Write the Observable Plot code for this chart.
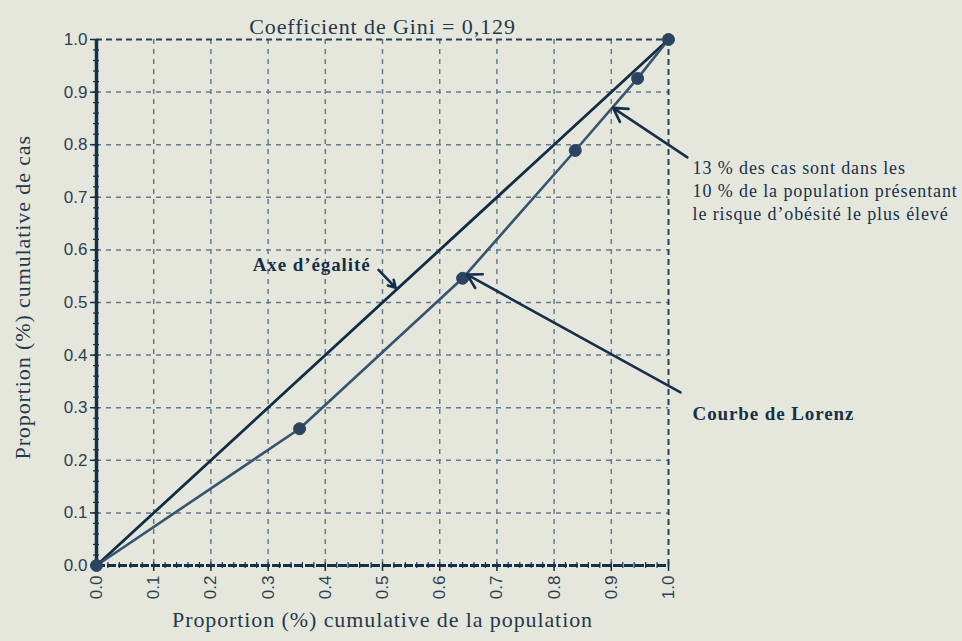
<!DOCTYPE html>
<html><head><meta charset="utf-8">
<script src="https://cdn.jsdelivr.net/npm/d3@7"></script>
<script src="https://cdn.jsdelivr.net/npm/@observablehq/plot@0.6"></script>
<style>
body{margin:0;background:#e6e7dc}
g[font-family*="Liberation Serif"]{letter-spacing:0.9px}
</style>
</head><body><div id="chart"></div>
<script>
// Lorenz curve data (cumulative share of population vs cumulative share of cases)
const popShare = [0, 0.355, 0.64, 0.837, 0.946, 1];
const caseShare = [0, 0.26, 0.546, 0.789, 0.926, 1];
// Line of equality
const eqX = [0, 1];
const eqY = [0, 1];
// Axis ticks
const xTicks = [0, 0.1, 0.2, 0.3, 0.4, 0.5, 0.6, 0.7, 0.8, 0.9, 1];
const xTickLabels = ["0.0","0.1","0.2","0.3","0.4","0.5","0.6","0.7","0.8","0.9","1.0"];
const yTicks = [0, 0.1, 0.2, 0.3, 0.4, 0.5, 0.6, 0.7, 0.8, 0.9, 1];
const yTickLabels = ["0.0","0.1","0.2","0.3","0.4","0.5","0.6","0.7","0.8","0.9","1.0"];
const minorTicks = d3.range(0, 51).map(i => i / 50);
// Texts
const titleText = "Coefficient de Gini = 0,129";
const xTitle = "Proportion (%) cumulative de la population";
const yTitle = "Proportion (%) cumulative de cas";
const noteEq = "Axe d’égalité";
const noteLorenz = "Courbe de Lorenz";
const noteTop = "13 % des cas sont dans les\n10 % de la population présentant\nle risque d’obésité le plus élevé";

const lorenz = popShare.map((x, i) => ({x, y: caseShare[i]}));
const equality = eqX.map((x, i) => ({x, y: eqY[i]}));
const xLab = new Map(xTicks.map((t, i) => [t, xTickLabels[i]]));
const yLab = new Map(yTicks.map((t, i) => [t, yTickLabels[i]]));

const dark = "#17304a";
const grid = "#677a8b";
const textCol = "#26384b";
const serif = "'Liberation Serif', 'Times New Roman', serif";

// annotation arrows in data space
const arrows = [
  {x1: 0.493, y1: 0.562, x2: 0.523, y2: 0.528},
  {x1: 1.021, y1: 0.329, x2: 0.648, y2: 0.553},
  {x1: 1.033, y1: 0.776, x2: 0.903, y2: 0.870}
];

const chart = Plot.plot({
  width: 962, height: 641,
  marginLeft: 96, marginRight: 294, marginTop: 39, marginBottom: 76,
  x: {domain: [0, 1]},
  y: {domain: [0, 1]},
  style: {background: "#e6e7dc", fontFamily: "'Liberation Sans', Arial, sans-serif", fontSize: "17px", color: "#2d4053"},
  marks: [
    Plot.ruleX(xTicks.slice(1, -1), {stroke: grid, strokeWidth: 1.5, strokeDasharray: "5,5"}),
    Plot.ruleY(yTicks.slice(1, -1), {stroke: grid, strokeWidth: 1.5, strokeDasharray: "5,5"}),
    Plot.ruleX([1], {stroke: "#2b4258", strokeWidth: 2, strokeDasharray: "6,4"}),
    Plot.ruleY([1], {stroke: "#2b4258", strokeWidth: 2, strokeDasharray: "6,4"}),
    Plot.ruleY(minorTicks, {x1: 0, x2: 0, insetLeft: -3, insetRight: -3, stroke: dark, strokeWidth: 1.2}),
    Plot.ruleX(minorTicks, {y1: 0, y2: 0, insetTop: -3, insetBottom: -3, stroke: dark, strokeWidth: 1.2}),
    Plot.ruleY([0], {stroke: dark, strokeWidth: 3, strokeDasharray: "9,2"}),
    Plot.ruleX([0], {stroke: dark, strokeWidth: 3.5}),
    Plot.axisY({ticks: yTicks, tickFormat: d => yLab.get(d), tickSize: 6, tickPadding: 3, label: null, stroke: dark, strokeWidth: 1.5}),
    Plot.axisX({ticks: xTicks, tickFormat: d => xLab.get(d), tickSize: 6, tickPadding: 4, tickRotate: -90, label: null, stroke: dark, strokeWidth: 1.5}),
    Plot.line(equality, {x: "x", y: "y", stroke: "#122c46", strokeWidth: 2.8}),
    Plot.line(lorenz, {x: "x", y: "y", stroke: "#36536f", strokeWidth: 2.6}),
    Plot.dot(lorenz, {x: "x", y: "y", r: 6, fill: "#2b4560", stroke: "#2b4560", strokeWidth: 1}),
    Plot.arrow(arrows, {x1: "x1", y1: "y1", x2: "x2", y2: "y2", stroke: dark, strokeWidth: 2.6, headLength: 9}),
    Plot.text([noteEq], {x: 0.479, y: 0.572, textAnchor: "end", fontFamily: serif, fontWeight: "bold", fontSize: 19, fill: dark}),
    Plot.text([noteLorenz], {x: 1.042, y: 0.289, textAnchor: "start", fontFamily: serif, fontWeight: "bold", fontSize: 19, fill: dark}),
    Plot.text([noteTop], {x: 1.042, y: 0.715, textAnchor: "start", lineHeight: 1.3, fontFamily: serif, fontSize: 18, fill: dark}),
    Plot.text([titleText], {frameAnchor: "top", dy: -21, fontFamily: serif, fontSize: 22, fill: textCol}),
    Plot.text([xTitle], {frameAnchor: "bottom", dy: 61, fontFamily: serif, fontSize: 22, fill: textCol}),
    Plot.text([yTitle], {x: 0, y: 0.51, dx: -74, rotate: -90, fontFamily: serif, fontSize: 22, fill: textCol})
  ]
});
document.getElementById("chart").append(chart);
</script>
</body></html>
